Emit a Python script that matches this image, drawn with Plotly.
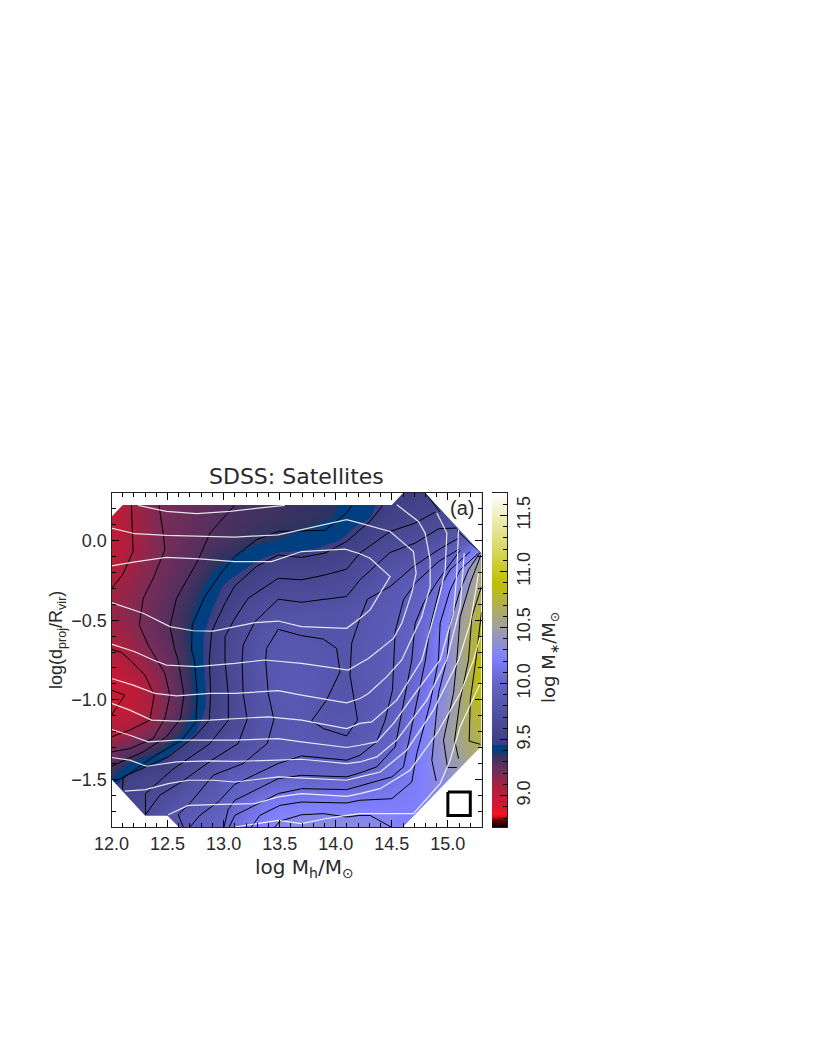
import numpy as np
import plotly.graph_objects as go

# ---- data ----
mh_grid = [12.0,12.15,12.3,12.45,12.6,12.75,12.9,13.05,13.2,13.35,13.5,13.65,13.8,13.95,14.1,14.25,14.4,14.55,14.7,14.85,15.0,15.15,15.3]
d_grid = [0.3,0.15,0.0,-0.15,-0.3,-0.45,-0.6,-0.75,-0.9,-1.05,-1.2,-1.35,-1.5,-1.65,-1.8]
row_p030 = [8.95,9.08,9.15,9.2,9.22,9.24,9.27,9.3,9.31,9.32,9.33,9.34,9.35,9.36,9.38,9.42,9.46,9.48,9.5,9.52,9.6,9.7,9.8]
row_p015 = [8.98,9.09,9.15,9.20,9.22,9.25,9.28,9.31,9.32,9.33,9.34,9.35,9.36,9.375,9.41,9.44,9.49,9.54,9.57,9.6,9.65,9.7,9.8]
row_p000 = [8.98,9.08,9.14,9.2,9.23,9.27,9.3,9.32,9.35,9.37,9.385,9.4,9.42,9.45,9.48,9.55,9.61,9.65,9.68,9.73,9.78,9.9,10.1]
row_m015 = [9.0,9.11,9.16,9.21,9.26,9.3,9.36,9.4,9.45,9.5,9.55,9.55,9.55,9.57,9.6,9.66,9.72,9.76,9.8,9.88,10.02,10.28,10.6]
row_m030 = [9.1,9.14,9.19,9.24,9.29,9.35,9.42,9.5,9.55,9.6,9.63,9.63,9.64,9.66,9.68,9.74,9.79,9.85,9.93,10.01,10.18,10.38,10.65]
row_m045 = [9.13,9.17,9.21,9.26,9.32,9.39,9.47,9.55,9.65,9.72,9.75,9.75,9.76,9.76,9.78,9.8,9.85,9.89,9.97,10.08,10.24,10.5,10.8]
row_m060 = [9.08,9.13,9.2,9.26,9.32,9.42,9.51,9.62,9.7,9.77,9.81,9.81,9.79,9.78,9.78,9.83,9.87,9.91,10.0,10.14,10.3,10.58,10.88]
row_m075 = [9.02,9.09,9.15,9.21,9.3,9.41,9.52,9.63,9.72,9.79,9.83,9.84,9.83,9.81,9.79,9.84,9.87,9.92,10.01,10.14,10.31,10.58,10.92]
row_m090 = [8.93,9.0,9.08,9.17,9.28,9.4,9.51,9.61,9.71,9.78,9.85,9.87,9.85,9.8,9.78,9.83,9.87,9.93,10.05,10.18,10.35,10.62,10.92]
row_m105 = [8.98,8.99,9.07,9.17,9.27,9.39,9.52,9.6,9.71,9.77,9.82,9.85,9.81,9.78,9.78,9.83,9.87,9.97,10.09,10.24,10.4,10.62,10.85]
row_m120 = [9.05,9.11,9.17,9.23,9.35,9.46,9.57,9.65,9.71,9.78,9.82,9.83,9.82,9.8,9.8,9.84,9.9,9.99,10.15,10.31,10.47,10.63,10.75]
row_m135 = [9.24,9.3,9.36,9.42,9.53,9.62,9.68,9.73,9.78,9.83,9.87,9.89,9.9,9.89,9.89,9.91,9.98,10.08,10.19,10.3,10.42,10.55,10.65]
row_m150 = [9.38,9.52,9.57,9.59,9.65,9.74,9.79,9.9,9.93,9.97,10.0,10.01,10.0,10.0,9.99,10.03,10.08,10.14,10.2,10.28,10.35,10.45,10.55]
row_m165 = [9.6,9.6,9.62,9.7,9.77,9.84,9.88,9.98,10.07,10.14,10.19,10.2,10.2,10.2,10.2,10.2,10.2,10.21,10.22,10.28,10.3,10.35,10.4]
row_m180 = [9.7,9.7,9.7,9.78,9.85,9.93,9.97,10.06,10.17,10.25,10.31,10.33,10.34,10.33,10.33,10.33,10.31,10.25,10.22,10.25,10.27,10.3,10.35]
mstar_rows = [row_p030,row_p015,row_p000,row_m015,row_m030,row_m045,row_m060,row_m075,row_m090,row_m105,row_m120,row_m135,row_m150,row_m165,row_m180]

# colour table: (log M*, colour)
cmap_levels = [8.72,8.78,8.83,8.9,9.0,9.1,9.2,9.3,9.379,9.381,9.459,9.461,9.5,10.0,10.23,10.5,10.9,11.7]
cmap_colors = ["#000000","#600008","#ff1020","#d81830","#c01c38","#a82040","#782c58","#503060","#283460","#004080","#004080","#3c3c80","#404084","#6464c8","#8080ff","#a0a0a0","#c0c000","#ffffff"]

black_a = [(12.178,.222),(12.193,-.068),(12.098,-.215),(12.0,-.30)]
black_a2 = [(12,-.94),(12.119,-.971),(12,-1.097)]
black_b = [(12.423,.222),(12.461,.048),(12.476,-.057),(12.372,-.236),(12.283,-.362),(12.247,-.530),(12.327,-.656),(12.405,-.75),(12.476,-.834),(12.521,-.971),(12.476,-1.118),(12.372,-1.244),(12.164,-1.307),(12.0,-1.328)]
black_c = [(12.0,-.683),(12.09,-.702),(12.164,-.75),(12.298,-.845),(12.381,-.971),(12.342,-1.128),(12.164,-1.191),(12.0,-1.233)]
black_d = [(13.095,.22),(12.878,.048),(12.774,-.12),(12.58,-.362),(12.521,-.54),(12.565,-.687),(12.595,-.75),(12.646,-.971),(12.616,-1.118),(12.491,-1.233),(12.283,-1.328),(12.0,-1.418)]
black_e = [(14.142,.22),(14.097,.174),(13.904,.065),(13.487,.058),(13.293,.006),(13.10,-.10),(12.997,-.183),(12.833,-.351),(12.72,-.53),(12.714,-.687),(12.74,-.75),(12.765,-.971),(12.753,-1.139),(12.625,-1.254),(12.372,-1.359),(12.119,-1.485),(12.0,-1.52)]
black_f = [(14.419,.222),(14.306,.121),(14.216,.069),(14.097,-.005),(13.904,-.078),(13.695,-.105),(13.487,-.089),(13.293,-.162),(13.10,-.284),(13.012,-.393),(12.893,-.572),(12.872,-.75),(12.884,-.96),(12.872,-1.128),(12.744,-1.229),(12.506,-1.359),(12.104,-1.485),(12.098,-1.565)]
black_g = [(14.887,.18),(14.708,.111),(14.485,.058),(14.216,-.078),(14.097,-.179),(13.904,-.215),(13.695,-.246),(13.487,-.236),(13.219,-.362),(13.10,-.488),(13.012,-.603),(13.012,-.75),(13.042,-.971),(13.042,-1.128),(12.878,-1.275),(12.536,-1.443),(12.303,-1.59),(12.303,-1.723)]
black_h = [(15.08,.08),(14.916,.075),(14.708,-.015),(14.485,-.074),(14.216,-.246),(14.097,-.351),(13.904,-.368),(13.695,-.387),(13.487,-.368),(13.279,-.509),(13.174,-.656),(13.165,-.75),(13.174,-.96),(13.21,-1.124),(13.13,-1.275),(12.893,-1.38),(12.625,-1.516),(12.431,-1.60),(12.303,-1.722)]
black_i = [(15.095,.016),(14.916,-.057),(14.693,-.162),(14.485,-.288),(14.282,-.368),(14.216,-.488),(14.142,-.645),(14.133,-.75),(14.127,-.845),(14.195,-1.128),(14.097,-1.227),(13.889,-1.181),(13.785,-1.132),(13.918,-1.002),(14.038,-.824),(14.023,-.75),(14.008,-.677),(13.889,-.618),(13.695,-.597),(13.487,-.557),(13.383,-.677),(13.375,-.75),(13.398,-.96),(13.448,-1.124),(13.389,-1.275),(13.174,-1.401),(12.908,-1.474),(12.684,-1.663),(12.595,-1.722),(12.64,-1.80)]
black_j = [(15.10,-.053),(14.916,-.131),(14.708,-.267),(14.604,-.372),(14.53,-.572),(14.52,-.75),(14.506,-.939),(14.44,-1.128),(14.366,-1.265),(14.216,-1.349),(14.097,-1.38),(13.695,-1.353),(13.487,-1.401),(13.10,-1.531),(12.952,-1.642),(12.789,-1.726),(12.70,-1.80)]
black_k = [(15.11,-.061),(14.916,-.246),(14.782,-.393),(14.708,-.519),(14.678,-.75),(14.619,-.96),(14.53,-1.296),(14.366,-1.422),(14.216,-1.46),(14.097,-1.485),(13.695,-1.475),(13.487,-1.496),(13.10,-1.632),(13.04,-1.69),(13.003,-1.80)]
black_l = [(15.199,-.068),(15.02,-.183),(14.931,-.288),(14.842,-.54),(14.80,-.75),(14.708,-1.065),(14.604,-1.422),(14.5,-1.485),(14.216,-1.543),(14.097,-1.565),(13.695,-1.559),(13.487,-1.59),(13.10,-1.727),(13.05,-1.80)]
black_m = [(15.274,-.078),(15.11,-.183),(15.02,-.309),(14.931,-.519),(14.916,-.75),(14.842,-1.023),(14.723,-1.338),(14.678,-1.517),(14.5,-1.622),(14.216,-1.632),(14.097,-1.649),(13.695,-1.643),(13.502,-1.664),(13.323,-1.727),(13.249,-1.80)]
black_n = [(13.457,-1.80),(13.502,-1.763),(13.695,-1.723),(13.889,-1.716),(14.097,-1.737),(14.216,-1.727),(14.306,-1.727),(14.494,-1.80)]
black_o = [(15.288,-.074),(15.184,-.183),(15.11,-.309),(15.02,-.519),(14.99,-.75),(14.916,-.96),(14.857,-1.38),(14.896,-1.51)]
black_p = [(15.295,-.089),(15.199,-.267),(15.11,-.477),(15.08,-.75),(15.05,-.96),(14.961,-1.254),(14.997,-1.426),(15.08,-1.426)]
black_q = [(15.30,-.288),(15.214,-.477),(15.184,-.75),(15.11,-1.0),(15.06,-1.254),(15.095,-1.37)]
black_r = [(15.3,-.45),(15.25,-.75),(15.2,-1.0),(15.19,-1.26),(15.29,-1.28)]
black_edge_top = [(14.8,.3),(14.93,.18)]
black_edge_right = [(15.08,.065),(15.3,-.08)]
black_lines = [black_a,black_a2,black_b,black_c,black_d,black_e,black_f,black_g,black_h,black_i,black_j,black_k,black_l,black_m,black_n,black_o,black_p,black_q,black_r,black_edge_top,black_edge_right]

white_1 = [(12.238,.222),(12.491,.184),(12.759,.17),(13.057,.184),(13.308,.205),(13.546,.222)]
white_2 = [(12.0,.079),(12.208,.044),(12.491,.033),(12.789,.027),(13.10,.023),(13.487,.037),(13.695,.069),(13.904,.10),(14.097,.132),(14.216,.111),(14.485,.058),(14.693,-.068),(14.717,-.204),(14.678,-.33),(14.589,-.519),(14.515,-.614),(14.291,-.74),(14.216,-.771),(14.112,-.813),(13.695,-.771),(13.368,-.75),(13.10,-.771),(12.759,-.792),(12.491,-.782),(12.372,-.75),(12.208,-.698),(12.0,-.65)]
white_3 = [(12.0,-.158),(12.223,-.131),(12.491,-.105),(12.789,-.114),(13.10,-.131),(13.427,-.131),(13.695,-.068),(14.082,-.053),(14.216,-.082),(14.306,-.11),(14.485,-.225),(14.306,-.435),(14.217,-.488),(14.097,-.551),(13.695,-.54),(13.487,-.505),(13.279,-.515),(13.10,-.54),(12.908,-.568),(12.729,-.566),(12.521,-.54),(12.283,-.456),(12.0,-.389)]
white_6 = [(12.0,-.866),(12.193,-.908),(12.387,-.96),(12.58,-.975),(12.878,-.96),(13.10,-.96),(13.487,-.943),(13.695,-.971),(14.097,-1.019),(14.216,-.992),(14.291,-.96),(14.455,-.855),(14.589,-.75),(14.768,-.477),(14.842,-.288),(14.842,-.12),(14.797,.048),(14.738,.121),(14.544,.226)]
white_7 = [(12.0,-1.023),(12.164,-1.065),(12.357,-1.128),(12.58,-1.134),(12.878,-1.128),(13.398,-1.107),(13.695,-1.128),(14.097,-1.181),(14.216,-1.149),(14.321,-1.139),(14.544,-1.002),(14.768,-.75),(14.931,-.33),(14.976,-.183),(14.991,.048),(14.902,.174)]
white_8 = [(12.0,-1.187),(12.164,-1.223),(12.327,-1.265),(12.58,-1.254),(13.10,-1.254),(13.487,-1.244),(13.695,-1.265),(14.097,-1.30),(14.216,-1.286),(14.366,-1.265),(14.515,-1.149),(14.708,-.96),(14.931,-.75),(15.05,-.456),(15.08,-.204),(15.095,.069)]
white_9 = [(12.0,-1.363),(12.164,-1.38),(12.312,-1.418),(12.58,-1.391),(12.878,-1.384),(13.10,-1.387),(13.487,-1.38),(13.695,-1.374),(14.097,-1.401),(14.216,-1.391),(14.366,-1.359),(14.544,-1.254),(14.812,-1.002),(14.99,-.75),(15.11,-.414),(15.146,-.078)]
white_10 = [(12.119,-1.574),(12.303,-1.565),(12.506,-1.527),(12.684,-1.506),(12.908,-1.506),(13.10,-1.517),(13.487,-1.485),(13.695,-1.492),(14.097,-1.506),(14.216,-1.485),(14.396,-1.454),(14.634,-1.317),(14.872,-1.065),(15.095,-.75),(15.199,-.519),(15.274,-.204)]
white_11 = [(12.506,-1.723),(12.684,-1.664),(12.982,-1.658),(13.279,-1.653),(13.487,-1.611),(13.695,-1.59),(14.097,-1.607),(14.216,-1.59),(14.396,-1.559),(14.663,-1.443),(14.902,-1.212),(15.11,-.96),(15.229,-.75),(15.288,-.603)]
white_12 = [(13.10,-1.80),(13.279,-1.779),(13.487,-1.758),(13.695,-1.779),(13.904,-1.748),(14.097,-1.727),(14.216,-1.716),(14.693,-1.716),(14.931,-1.527),(15.02,-1.38),(15.11,-1.17),(15.288,-.897)]
white_lines = [white_1,white_2,white_3,white_6,white_7,white_8,white_9,white_10,white_11,white_12]

# areas with no data (white corners)
empty_top = [(12.0,.3),(12.0,.15),(12.1,.225),(14.5,.225),(14.6,.3)]
empty_top_right = [(14.8,.3),(15.3,-.08),(15.3,.3)]
empty_bottom_left = [(12.0,-1.5),(12.3,-1.73),(12.5,-1.73),(12.6,-1.8),(12.0,-1.8)]
empty_bottom_right = [(14.6,-1.8),(15.3,-1.29),(15.3,-1.8)]
empty_areas = [empty_top,empty_top_right,empty_bottom_left,empty_bottom_right]

bin_box = [(15.0,-1.58),(15.2,-1.58),(15.2,-1.727),(15.0,-1.727),(15.0,-1.58)]

x_ticks = [12.0,12.5,13.0,13.5,14.0,14.5,15.0]
y_ticks = [-1.5,-1.0,-0.5,0.0]
cbar_ticks = [9.0,9.5,10.0,10.5,11.0,11.5]

TITLE = "SDSS: Satellites"
XLABEL = "log M<sub>h</sub>/M<sub>⊙</sub>"
YLABEL = "log(d<sub>proj</sub>/R<sub>vir</sub>)"
CLABEL = "log M<sub>∗</sub>/M<sub>⊙</sub>"
PANEL = "(a)"

# ---- figure ----
W, H, OFF = 806, 1048, 8
def fx(p): return (p - OFF) / W
def fy(p): return 1 - (p - OFF) / H

zlo, zhi = cmap_levels[0], cmap_levels[-1]
colorscale = [[(l - zlo) / (zhi - zlo), c] for l, c in zip(cmap_levels, cmap_colors)]
colorscale[-1][0] = 1.0

FONT = "Liberation Sans"
WIDE = "DejaVu Sans"
TXT = "#2a2a2a"

fig = go.Figure()
fig.add_trace(go.Heatmap(x=mh_grid, y=d_grid, z=mstar_rows, zmin=zlo, zmax=zhi, colorscale=colorscale,
                         zsmooth="best", showscale=False, hoverinfo="skip"))
for ln in black_lines:
    fig.add_trace(go.Scatter(x=[p[0] for p in ln], y=[p[1] for p in ln], mode="lines",
                             line=dict(color="black", width=1), showlegend=False, hoverinfo="skip"))
for ln in white_lines:
    fig.add_trace(go.Scatter(x=[p[0] for p in ln], y=[p[1] for p in ln], mode="lines",
                             line=dict(color="rgba(255,255,255,0.85)", width=1.2), showlegend=False, hoverinfo="skip"))
for poly in empty_areas:
    fig.add_trace(go.Scatter(x=[p[0] for p in poly], y=[p[1] for p in poly], mode="lines", fill="toself",
                             fillcolor="white", line=dict(color="white", width=0), showlegend=False, hoverinfo="skip"))
fig.add_trace(go.Scatter(x=[p[0] for p in bin_box], y=[p[1] for p in bin_box], mode="lines",
                         line=dict(color="black", width=3), showlegend=False, hoverinfo="skip"))

# colour bar as its own small axis
bar_z = np.linspace(zlo, zhi, 600)
fig.add_trace(go.Heatmap(x=[0, 1], y=bar_z, z=[[v, v] for v in bar_z], zmin=zlo, zmax=zhi, colorscale=colorscale,
                         showscale=False, hoverinfo="skip", xaxis="x2", yaxis="y2"))

tickfont = dict(family=FONT, size=18, color=TXT)
minor_ticks = dict(dtick=0.1, ticklen=4, ticks="inside", tickcolor="black", tickwidth=1)
axis_common = dict(ticks="inside", ticklen=7, tickwidth=1, tickcolor="black", showline=True, linecolor="#222",
                   linewidth=1, mirror="allticks", showgrid=False, zeroline=False, tickfont=tickfont,
                   tickformat=".1f", automargin=False)
def label(text, px, py, size=18, angle=0, family=FONT):
    return dict(text=text, x=fx(px), y=fy(py), xref="paper", yref="paper", showarrow=False, textangle=angle,
                xanchor="center", yanchor="middle", font=dict(family=family, size=size, color=TXT))

fig.update_layout(
    width=W, height=H, margin=dict(l=0, r=0, t=0, b=0, autoexpand=False), paper_bgcolor="white", plot_bgcolor="white",
    showlegend=False,
    xaxis=dict(domain=[fx(111.5), fx(481.5)], range=[12.0, 15.3], tickvals=x_ticks, minor=minor_ticks, **axis_common),
    yaxis=dict(domain=[fy(827), fy(493)], range=[-1.8, 0.3], tickvals=y_ticks, minor=minor_ticks, **axis_common),
    xaxis2=dict(domain=[fx(492), fx(507)], range=[0, 1], showticklabels=False, ticks="", showline=True,
                linecolor="#222", linewidth=1, mirror=True, showgrid=False, zeroline=False, anchor="y2", automargin=False),
    yaxis2=dict(domain=[fy(827), fy(493)], range=[zlo, zhi], side="right", anchor="x2", tickvals=cbar_ticks,
                tickangle=-90, ticks="inside", ticklen=7, tickcolor="black", showline=True, linecolor="#222",
                linewidth=1, showgrid=False, zeroline=False, tickfont=tickfont, tickformat=".1f",
                minor=minor_ticks, automargin=False),
    annotations=[
        label(TITLE, 296.5, 476, size=22, family=WIDE),
        label(XLABEL, 304, 868, size=20, family=WIDE),
        label(YLABEL, 57, 640, size=18),
        label(CLABEL, 550, 658, size=18, family=WIDE),
        label(PANEL, 462, 508, size=20),
    ],
)
fig.layout.annotations[2].textangle = -90
fig.layout.annotations[3].textangle = -90
fig.write_html("out.html")
